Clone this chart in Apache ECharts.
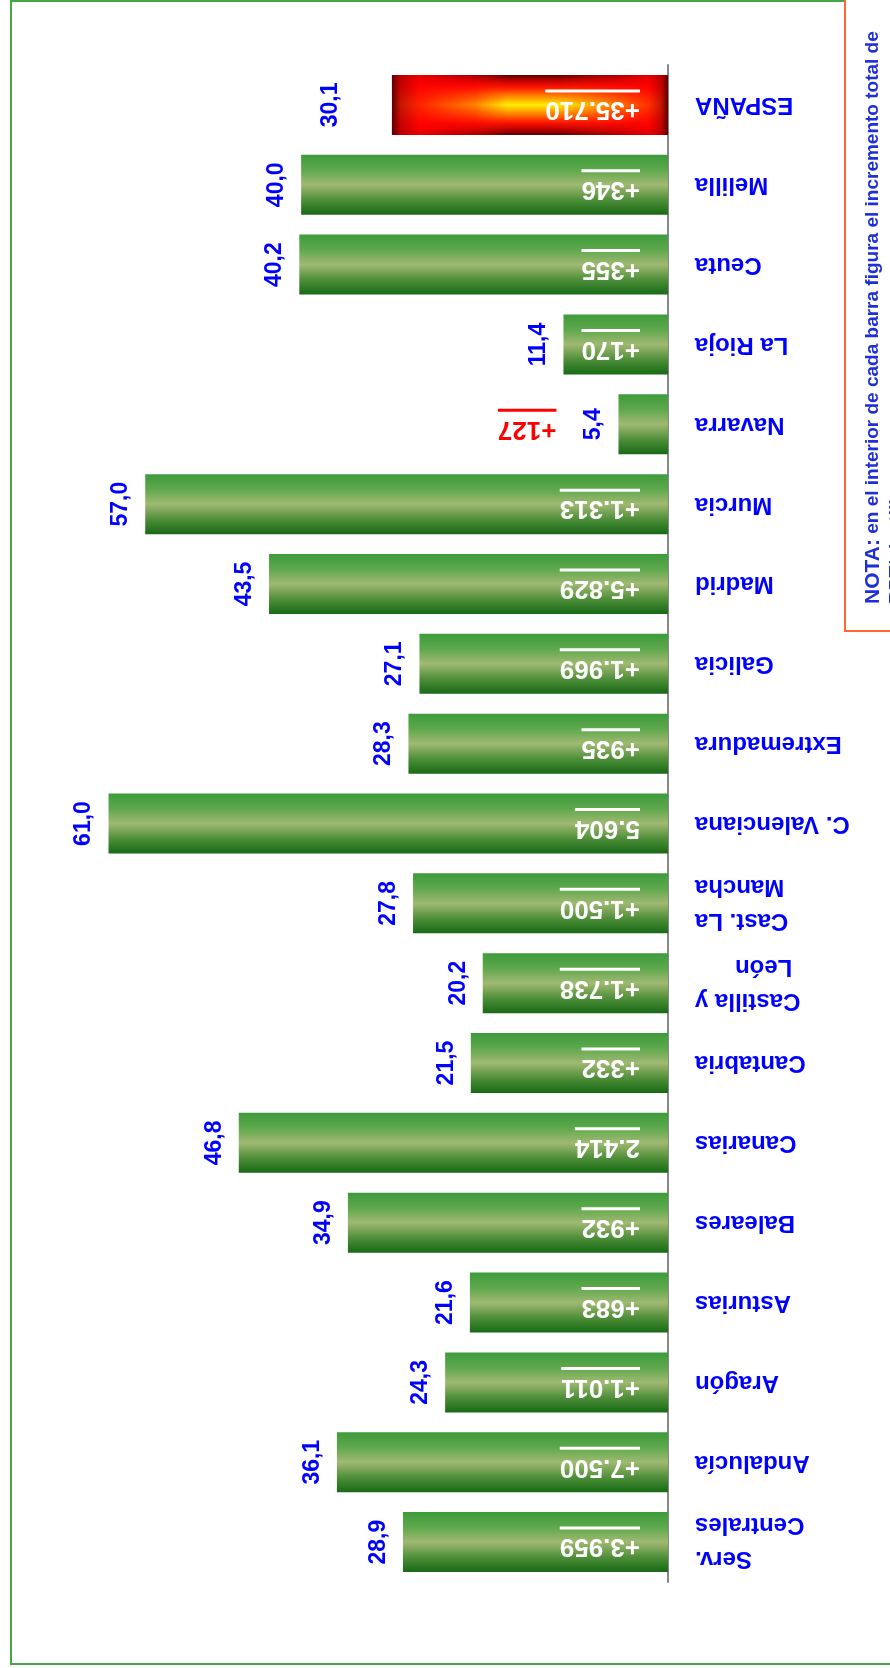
<!DOCTYPE html>
<html>
<head>
<meta charset="utf-8">
<script src="https://cdn.jsdelivr.net/npm/echarts@6/dist/echarts.min.js"></script>
<style>
html, body { margin: 0; padding: 0; background: #fff; }
#chart { width: 890px; height: 1668px; }
</style>
</head>
<body>
<div id="chart"></div>
<script>
// categorías de abajo a arriba
const categories = ['Serv.\nCentrales', 'Andalucía', 'Aragón', 'Asturias', 'Baleares', 'Canarias', 'Cantabria',
    'Castilla y\nLeón      ', 'Cast. La\nMancha', 'C. Valenciana', 'Extremadura', 'Galicia', 'Madrid', 'Murcia',
    'Navarra', 'La Rioja', 'Ceuta', 'Melilla', 'ESPAÑA']
const pctValues = [28.9, 36.1, 24.3, 21.6, 34.9, 46.8, 21.5, 20.2, 27.8, 61.0, 28.3, 27.1, 43.5, 57.0, 5.4, 11.4, 40.2, 40.0, 30.1]
const increments = ['+3.959', '+7.500', '+1.011', '+683', '+932', '2.414', '+332', '+1.738', '+1.500', '5.604',
    '+935', '+1.969', '+5.829', '+1.313', '+127', '+170', '+355', '+346', '+35.710']
const totalIndex = 18
const outsideIndex = 14
const noteTitle = 'NOTA:'
const noteText = ' en el interior de cada barra figura el incremento total de'
const noteText2 = 'RPT/plantilla.'

const FONT = '"Liberation Sans", Arial, sans-serif'

const greenFill = {
    type: 'linear', x: 0, y: 0, x2: 0, y2: 1,
    colorStops: [
        { offset: 0, color: '#3d9b3b' },
        { offset: 0.25, color: '#5ea84c' },
        { offset: 0.5, color: '#a0b972' },
        { offset: 0.75, color: '#4f8f3a' },
        { offset: 1, color: '#186915' },
    ],
}
const redFill = {
    type: 'linear', x: 0, y: 0, x2: 0, y2: 1,
    colorStops: [
        { offset: 0, color: '#5a0000' },
        { offset: 0.08, color: '#b00000' },
        { offset: 0.2, color: '#ff1000' },
        { offset: 0.36, color: '#ff8a00' },
        { offset: 0.5, color: '#ffee00' },
        { offset: 0.64, color: '#ff8a00' },
        { offset: 0.8, color: '#ff1000' },
        { offset: 0.92, color: '#b00000' },
        { offset: 1, color: '#5a0000' },
    ],
}
const redOverlay = {
    type: 'linear', x: 0, y: 0, x2: 1, y2: 0,
    colorStops: [
        { offset: 0, color: 'rgba(90,0,0,1)' },
        { offset: 0.03, color: 'rgba(190,0,0,0.9)' },
        { offset: 0.1, color: 'rgba(255,0,0,0.85)' },
        { offset: 0.3, color: 'rgba(255,0,0,0.45)' },
        { offset: 0.42, color: 'rgba(255,40,0,0)' },
        { offset: 0.6, color: 'rgba(255,40,0,0)' },
        { offset: 0.8, color: 'rgba(255,0,0,0.45)' },
        { offset: 0.93, color: 'rgba(255,0,0,0.8)' },
        { offset: 0.975, color: 'rgba(190,0,0,0.9)' },
        { offset: 1, color: 'rgba(90,0,0,1)' },
    ],
}

const baseData = pctValues.map((v, i) => {
    const item = {
        value: v,
        itemStyle: { color: i === totalIndex ? redFill : greenFill },
    }
    if (i === totalIndex) item.label = { distance: 50 }
    return item
})

const overlayData = pctValues.map((v, i) => {
    const item = {
        value: v,
        itemStyle: { color: i === totalIndex ? redOverlay : 'rgba(0,0,0,0)' },
    }
    if (i === outsideIndex) {
        item.label = {
            position: [-62, '50%'],
            formatter: '{rv|' + increments[i] + '}\n{ru|' + increments[i] + '}',
        }
    }
    return item
})

const chart = echarts.init(document.getElementById('chart'))

chart.setOption({
    animation: false,
    backgroundColor: '#fff',
    grid: { left: 26, right: 222, top: 65, bottom: 86 },
    xAxis: {
        type: 'value',
        inverse: true,
        min: 0,
        max: 70,
        show: false,
    },
    yAxis: {
        type: 'category',
        position: 'right',
        data: categories,
        axisLine: { lineStyle: { color: '#888', width: 2 } },
        axisTick: { length: 10, lineStyle: { color: '#888', width: 2 } },
        axisLabel: {
            rotate: 180,
            margin: 27,
            color: '#0000ff',
            fontSize: 24,
            fontWeight: 'bold',
            fontFamily: FONT,
            lineHeight: 34,
        },
    },
    series: [
        {
            type: 'bar',
            data: baseData,
            barWidth: 60,
            barGap: '-100%',
            label: {
                show: true,
                position: 'left',
                distance: 13,
                rotate: 90,
                align: 'center',
                verticalAlign: 'bottom',
                color: '#0000ff',
                fontSize: 23,
                fontWeight: 'bold',
                fontFamily: FONT,
                formatter: p => pctValues[p.dataIndex].toFixed(1).replace('.', ','),
            },
        },
        {
            type: 'bar',
            data: overlayData,
            barWidth: 60,
            barGap: '-100%',
            label: {
                show: true,
                position: 'insideRight',
                distance: 28,
                rotate: 180,
                align: 'left',
                verticalAlign: 'middle',
                offset: [0, -3],
                formatter: p => '{v|' + increments[p.dataIndex] + '}\n{u|' + increments[p.dataIndex] + '}',
                rich: {
                    v: { color: '#fff', fontSize: 26, fontWeight: 'bold', fontFamily: FONT, lineHeight: 34 },
                    u: { color: 'rgba(0,0,0,0)', fontSize: 26, fontWeight: 'bold', fontFamily: FONT, height: 3, lineHeight: 3, backgroundColor: '#fff' },
                    rv: { color: '#ff0000', fontSize: 26, fontWeight: 'bold', fontFamily: FONT, lineHeight: 34 },
                    ru: { color: 'rgba(0,0,0,0)', fontSize: 26, fontWeight: 'bold', fontFamily: FONT, height: 3, lineHeight: 3, backgroundColor: '#ff0000' },
                },
            },
        },
    ],
    graphic: [
        {
            type: 'rect',
            silent: true,
            z: -10,
            shape: { x: 11, y: 1, width: 900, height: 1663 },
            style: { fill: 'none', stroke: '#45a845', lineWidth: 2 },
        },
        {
            type: 'rect',
            silent: true,
            shape: { x: 845, y: -5, width: 60, height: 636 },
            style: { fill: '#fff', stroke: '#ff6633', lineWidth: 2 },
        },
        {
            type: 'text',
            silent: true,
            x: 861,
            y: 604,
            rotation: Math.PI / 2,
            style: {
                text: '{n|' + noteTitle + '}' + noteText + '\n' + noteText2,
                fill: '#1f2fd6',
                fontSize: 19,
                fontWeight: 'bold',
                fontFamily: FONT,
                lineHeight: 24,
                align: 'left',
                verticalAlign: 'top',
                rich: {
                    n: { fontSize: 21, fontWeight: 'bold', fontFamily: FONT, fill: '#1f2fd6', lineHeight: 24 },
                },
            },
        },
    ],
})
</script>
</body>
</html>
